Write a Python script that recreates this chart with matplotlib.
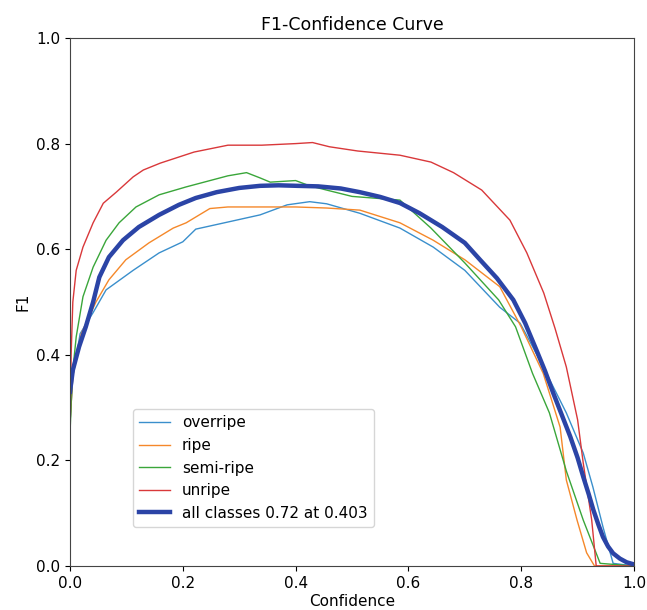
import matplotlib
matplotlib.use("Agg")
import matplotlib.pyplot as plt

# ---- data ----
overripe_x = [0, 0.005, 0.018, 0.041, 0.064, 0.112, 0.158, 0.20, 0.223, 0.278, 0.337, 0.385, 0.425, 0.455,
              0.514, 0.585, 0.644, 0.70, 0.762, 0.798, 0.833, 0.88, 0.91, 0.927, 0.945, 0.963, 1.0]
overripe_y = [0.27, 0.36, 0.44, 0.48, 0.523, 0.56, 0.593, 0.614, 0.638, 0.651, 0.665, 0.684, 0.69, 0.686,
              0.668, 0.64, 0.604, 0.56, 0.49, 0.46, 0.39, 0.29, 0.214, 0.15, 0.074, 0.005, 0.0]

ripe_x = [0, 0.005, 0.02, 0.046, 0.069, 0.099, 0.14, 0.183, 0.206, 0.248, 0.28, 0.34, 0.40, 0.455, 0.514,
          0.585, 0.644, 0.70, 0.762, 0.80, 0.839, 0.869, 0.88, 0.899, 0.916, 0.93, 1.0]
ripe_y = [0.27, 0.36, 0.44, 0.50, 0.542, 0.58, 0.612, 0.64, 0.65, 0.677, 0.68, 0.68, 0.68, 0.678, 0.674,
          0.65, 0.617, 0.58, 0.529, 0.453, 0.365, 0.263, 0.163, 0.087, 0.025, 0.0, 0.0]

semi_x = [0, 0.004, 0.011, 0.023, 0.041, 0.064, 0.087, 0.117, 0.158, 0.206, 0.28, 0.313, 0.337, 0.355,
          0.40, 0.425, 0.50, 0.585, 0.64, 0.70, 0.76, 0.79, 0.82, 0.85, 0.88, 0.91, 0.94, 1.0]
semi_y = [0.25, 0.36, 0.434, 0.51, 0.566, 0.617, 0.65, 0.68, 0.703, 0.718, 0.739, 0.745, 0.735, 0.727,
          0.73, 0.72, 0.70, 0.693, 0.64, 0.574, 0.504, 0.453, 0.365, 0.29, 0.18, 0.087, 0.005, 0.0]

unripe_x = [0, 0.002, 0.005, 0.011, 0.023, 0.041, 0.059, 0.082, 0.112, 0.13, 0.16, 0.22, 0.28, 0.34, 0.40,
            0.43, 0.46, 0.51, 0.585, 0.64, 0.68, 0.73, 0.78, 0.81, 0.84, 0.86, 0.88, 0.90, 0.91, 0.925,
            0.933, 1.0]
unripe_y = [0.24, 0.40, 0.50, 0.56, 0.604, 0.65, 0.687, 0.708, 0.737, 0.75, 0.763, 0.784, 0.797, 0.797,
            0.800, 0.802, 0.794, 0.786, 0.778, 0.765, 0.745, 0.712, 0.655, 0.593, 0.517, 0.45, 0.377, 0.277,
            0.195, 0.087, 0.0, 0.0]

all_x = [0, 0.005, 0.016, 0.028, 0.041, 0.052, 0.069, 0.094, 0.122, 0.158, 0.193, 0.223, 0.26, 0.30,
         0.337, 0.37, 0.403, 0.44, 0.48, 0.514, 0.55, 0.585, 0.62, 0.66, 0.70, 0.727, 0.757, 0.786, 0.807,
         0.827, 0.842, 0.857, 0.872, 0.887, 0.90, 0.91, 0.92, 0.928, 0.937, 0.945, 0.954, 0.963, 0.975,
         0.987, 1.0]
all_y = [0.33, 0.371, 0.415, 0.453, 0.50, 0.547, 0.585, 0.617, 0.642, 0.665, 0.684, 0.697, 0.708, 0.716,
         0.72, 0.721, 0.72, 0.719, 0.715, 0.708, 0.699, 0.6875, 0.668, 0.642, 0.612, 0.58, 0.545, 0.504,
         0.46, 0.409, 0.37, 0.327, 0.286, 0.245, 0.205, 0.169, 0.135, 0.106, 0.078, 0.055, 0.037, 0.024,
         0.014, 0.007, 0.003]

labels = ["overripe", "ripe", "semi-ripe", "unripe", "all classes 0.72 at 0.403"]
x_ticks = [0.0, 0.2, 0.4, 0.6, 0.8, 1.0]
y_ticks = [0.0, 0.2, 0.4, 0.6, 0.8, 1.0]

fig = plt.figure(figsize=(6.47, 6.10), dpi=100)
ax = fig.add_axes([70 / 647, 44 / 610, 564 / 647, 528 / 610])

ax.plot(overripe_x, overripe_y, color="#3a8fcc", lw=1.0, label=labels[0])
ax.plot(ripe_x, ripe_y, color="#f5882a", lw=1.0, label=labels[1])
ax.plot(semi_x, semi_y, color="#3aa63a", lw=1.0, label=labels[2])
ax.plot(unripe_x, unripe_y, color="#d9383a", lw=1.0, label=labels[3])
ax.plot(all_x, all_y, color="#2b44a6", lw=3.2, label=labels[4])

ax.set_xlim(0, 1)
ax.set_ylim(0, 1)
ax.set_xticks(x_ticks)
ax.set_yticks(y_ticks)
ax.tick_params(labelsize=11)
for s in ax.spines.values():
    s.set_color("#444444")
ax.set_xlabel("Confidence", fontsize=11, labelpad=2)
ax.set_ylabel("F1", fontsize=11)
ax.set_title("F1-Confidence Curve", fontsize=12.5, pad=6)

ax.legend(loc="lower left", bbox_to_anchor=(0.112, 0.074), borderaxespad=0, fontsize=11)

fig.savefig("out.png", dpi=100)
